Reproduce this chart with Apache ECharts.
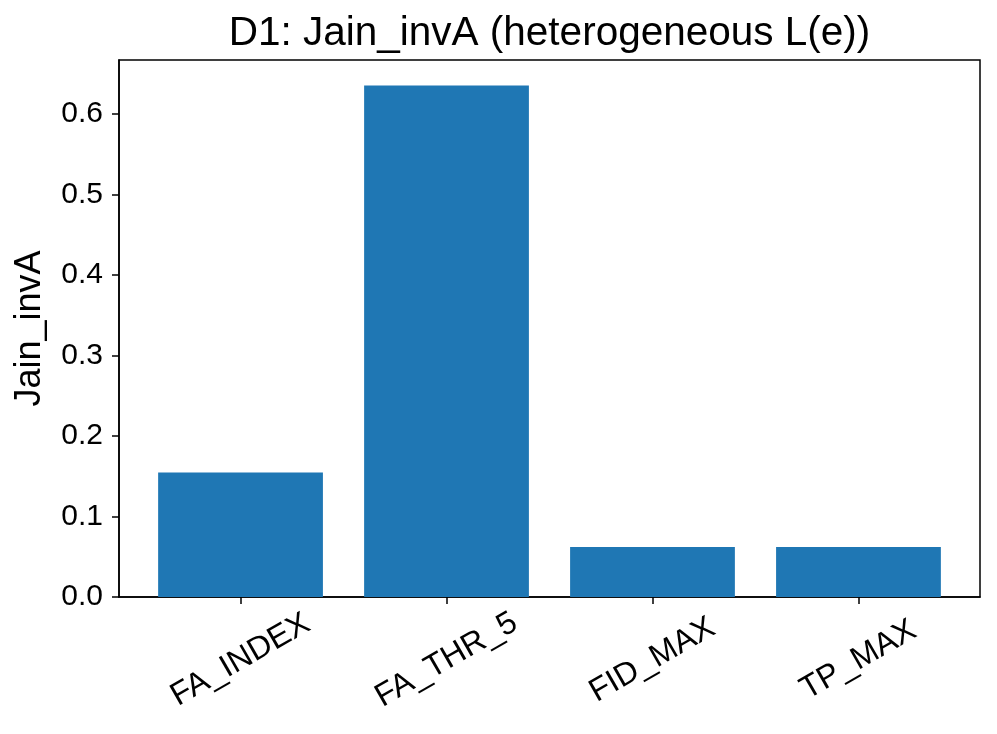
<!DOCTYPE html>
<html>
<head>
<meta charset="utf-8">
<script src="https://cdn.jsdelivr.net/npm/echarts@6/dist/echarts.min.js"></script>
<style>
html,body{margin:0;padding:0;background:#fff;}
#main{width:997px;height:734px;}
</style>
</head>
<body>
<div id="main"></div>
<script>
const titleText = 'D1: Jain_invA (heterogeneous L(e))';
const yName = 'Jain_invA';
const categories = ['FA_INDEX', 'FA_THR_5', 'FID_MAX', 'TP_MAX'];
const values = [0.1545, 0.635, 0.062, 0.062];
const yTicks = [0.0, 0.1, 0.2, 0.3, 0.4, 0.5, 0.6];
const xTicks = [0, 1, 2, 3];

const FONT = 'Liberation Sans';
const gridLeft = 119, gridRight = 17, gridTop = 60, gridBottom = 137;
const W = 997;
const xMin = -0.59, xMax = 3.59;
const yMax = Math.max(...values) * 1.05;
const gridW = W - gridLeft - gridRight;
const barW = 0.8 * gridW / (xMax - xMin);

const chart = echarts.init(document.getElementById('main'), null, {renderer: 'canvas'});
chart.setOption({
  animation: false,
  backgroundColor: '#fff',
  title: {
    text: titleText,
    left: gridLeft + gridW / 2,
    textAlign: 'center',
    top: 13,
    padding: 0,
    textStyle: {fontFamily: FONT, fontSize: 40.5, fontWeight: 'normal', color: '#000'}
  },
  grid: {
    left: gridLeft, right: gridRight, top: gridTop, bottom: gridBottom,
    show: true, borderColor: '#000', borderWidth: 1.5, backgroundColor: 'transparent'
  },
  xAxis: {
    type: 'value', min: xMin, max: xMax,
    splitLine: {show: false},
    axisLine: {show: true, onZero: false, lineStyle: {color: '#000', width: 1.5}},
    axisTick: {show: true, length: 7, customValues: xTicks, lineStyle: {color: '#000', width: 1.5}},
    axisLabel: {
      customValues: xTicks,
      formatter: v => categories[Math.round(v)],
      rotate: 30, align: 'center', verticalAlign: 'middle', margin: 63,
      fontFamily: FONT, fontSize: 32, color: '#000'
    }
  },
  yAxis: {
    type: 'value', min: 0, max: yMax,
    name: yName, nameLocation: 'middle', nameGap: 71,
    nameTextStyle: {fontFamily: FONT, fontSize: 36, color: '#000'},
    splitLine: {show: false},
    axisLine: {show: true, onZero: false, lineStyle: {color: '#000', width: 1.5}},
    axisTick: {show: true, length: 7, customValues: yTicks, lineStyle: {color: '#000', width: 1.5}},
    axisLabel: {
      customValues: yTicks,
      formatter: v => v.toFixed(1),
      margin: 16, fontFamily: FONT, fontSize: 30, color: '#000'
    }
  },
  series: [{
    type: 'bar',
    data: values.map((v, i) => [i, v]),
    barWidth: barW,
    itemStyle: {color: '#1f77b4'}
  }]
});
</script>
</body>
</html>
